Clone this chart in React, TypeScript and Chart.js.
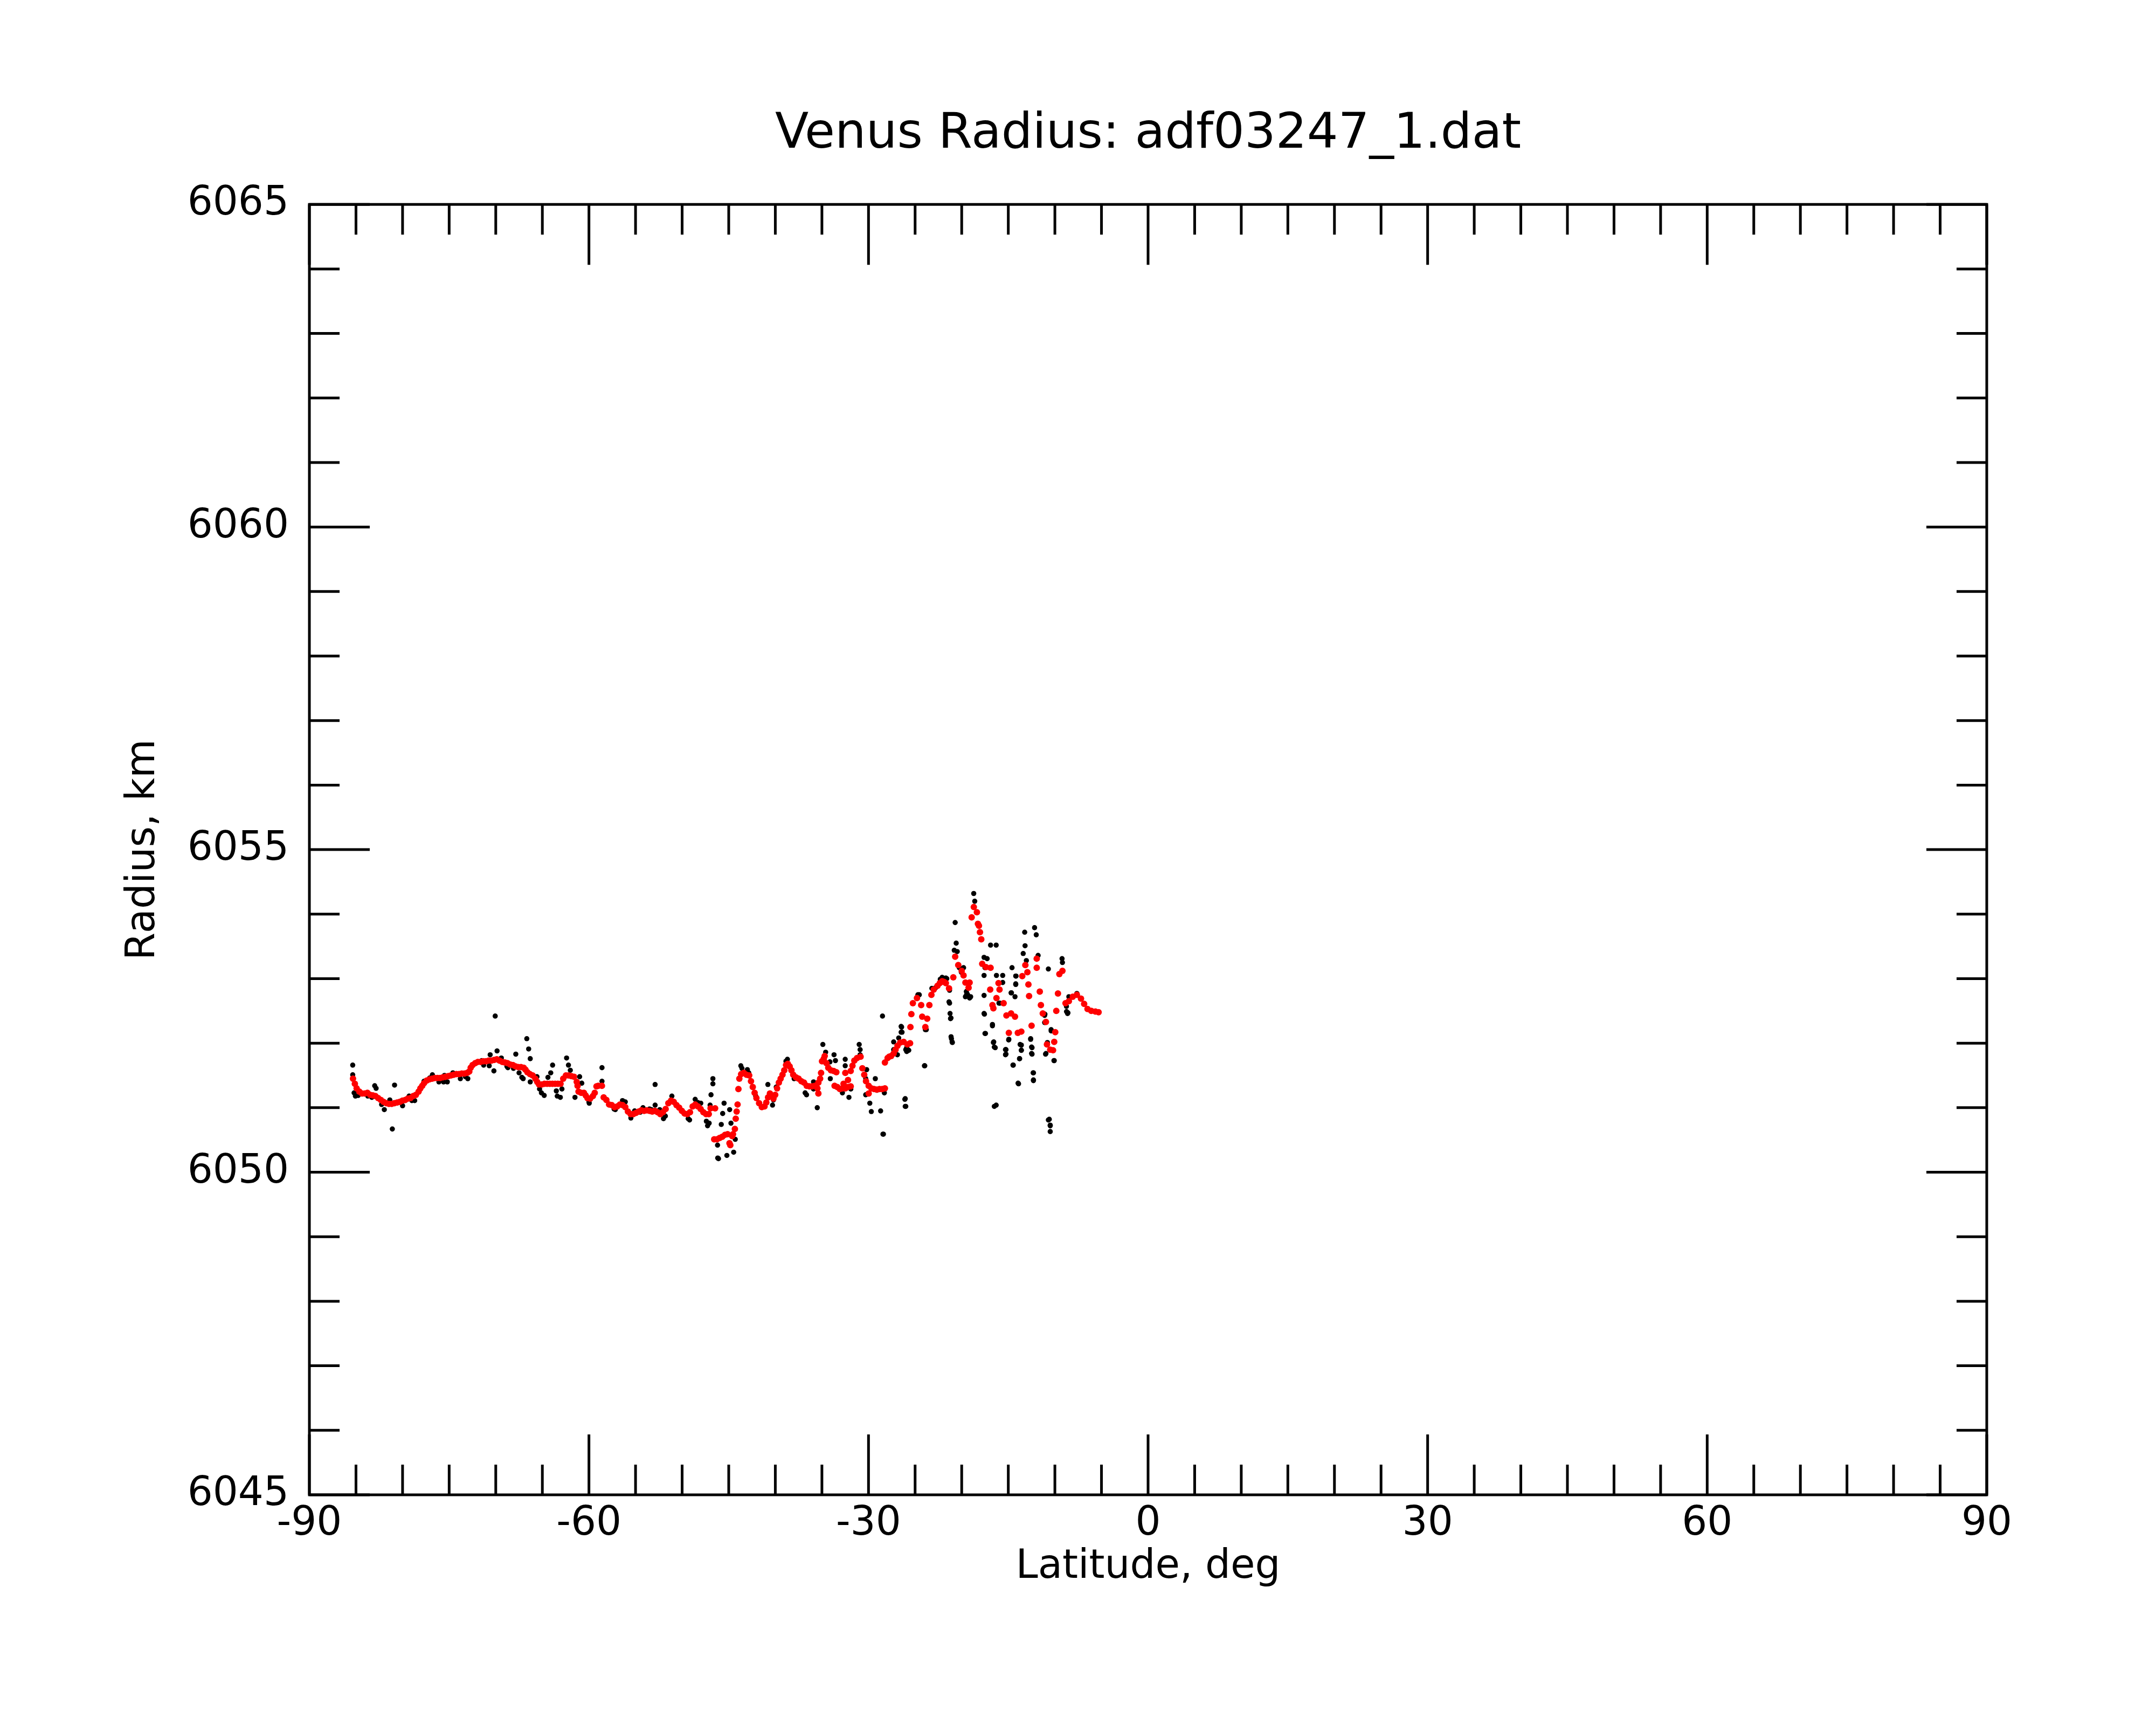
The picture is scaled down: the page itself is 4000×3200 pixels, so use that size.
import { useEffect, useRef } from 'react';
import { Chart, registerables } from 'chart.js';

Chart.register(...registerables);

const TITLE = 'Venus Radius: adf03247_1.dat';
const X_TICKS = [-90, -60, -30, 0, 30, 60, 90];
const Y_TICKS = [6045, 6050, 6055, 6060, 6065];

// smoothed radius (red)
const fitLat = [
  -85.32, -85.12, -84.93, -84.64, -84.35, -84.06, -83.77, -83.48, -83.19, -82.91,
  -82.62, -82.33, -82.04, -81.75, -81.46, -81.17, -80.88, -80.59, -80.30, -80.01,
  -79.72, -79.44, -79.15, -78.86, -78.57, -78.28, -78.09, -77.89, -77.70, -77.41,
  -77.12, -76.83, -76.54, -76.25, -75.97, -75.68, -75.39, -75.10, -74.81, -74.52,
  -74.23, -73.94, -73.65, -73.36, -73.07, -72.84, -72.69, -72.49, -72.21, -71.92,
  -71.63, -71.34, -71.05, -70.76, -70.47, -70.18, -69.89, -69.60, -69.31, -69.02,
  -68.74, -68.45, -68.16, -67.87, -67.58, -67.29, -67.00, -66.81, -66.61, -66.33,
  -66.04, -65.75, -65.55, -65.36, -65.07, -64.78, -64.49, -64.20, -63.92, -63.63,
  -63.34, -63.05, -62.76, -62.47, -62.18, -61.89, -61.60, -61.31, -61.22, -61.12,
  -60.83, -60.54, -60.35, -60.16, -59.87, -59.58, -59.38, -59.19, -59.00, -58.61,
  -58.42, -58.13,
  -57.84, -57.55, -57.26, -56.97, -56.68, -56.39, -56.10, -55.82, -55.53, -55.24,
  -54.95, -54.66, -54.37, -54.08, -53.79, -53.50, -53.21, -52.92, -52.63, -52.35,
  -52.06, -51.77, -51.48, -51.19, -50.90, -50.61, -50.32, -50.03, -49.74, -49.45,
  -49.16, -48.87, -48.59, -48.30, -48.01, -47.72, -47.43, -47.14, -46.95, -46.46,
  -46.56, -46.27, -45.98, -45.69, -45.40, -45.12, -44.92, -44.83, -44.63, -44.54,
  -44.34, -44.25, -44.15, -44.05, -43.96, -43.86, -43.67, -43.38, -43.09, -42.80,
  -42.61, -42.42, -42.22, -42.03, -41.74, -41.45, -41.16, -40.97, -40.78, -40.58,
  -40.39, -40.20, -40.01, -39.81, -39.62, -39.43, -39.23, -39.04, -38.85, -38.66,
  -38.46, -38.27, -38.08, -37.79, -37.50, -37.21, -36.92, -36.63, -36.34, -36.05,
  -35.76, -35.48, -35.38, -35.38, -35.19, -35.09, -34.99, -34.80, -34.70, -34.51,
  -34.32, -34.03, -33.74, -33.45, -33.64, -33.35, -33.07, -32.78, -32.49, -32.20,
  -31.91, -32.68, -32.49, -32.20, -31.91, -31.72, -31.52, -31.23, -30.85, -30.66,
  -30.46, -30.27, -29.98, -29.69, -29.40, -29.11, -28.82, -28.53, -28.24, -29.98,
  -28.24, -27.95, -27.78, -27.57, -27.30, -27.10, -26.89, -26.60, -26.23, -25.83,
  -25.54, -25.50, -25.40, -25.24, -24.80, -24.35, -24.24, -23.90, -23.70, -23.47,
  -23.25, -23.00, -22.60, -22.35, -22.10, -21.90, -21.70, -21.36, -20.90, -20.70,
  -20.37, -20.00, -19.80, -19.60, -19.26, -19.15, -18.93, -18.70, -18.37, -18.26,
  -18.15, -18.04, -17.90, -17.80, -17.40, -16.90, -16.94, -16.05, -15.94, -16.27,
  -16.70, -16.60, -15.50, -15.20, -14.70, -14.28, -14.94, -13.98, -13.60, -13.50,
  -13.17, -12.95, -12.84, -12.77, -12.50, -11.95, -11.95, -11.62, -11.50, -11.30,
  -10.96, -10.85, -10.50, -10.20, -10.07, -9.96, -9.85, -9.67, -9.52, -9.19,
  -8.86, -8.50, -8.08, -7.64, -7.20, -6.86, -6.50, -6.09, -5.65, -5.31,
];
const fitRadius = [
  6051.45, 6051.37, 6051.30, 6051.25, 6051.22, 6051.22, 6051.23, 6051.20, 6051.19, 6051.18,
  6051.15, 6051.12, 6051.09, 6051.07, 6051.06, 6051.06, 6051.07, 6051.08, 6051.09, 6051.11,
  6051.12, 6051.14, 6051.15, 6051.18, 6051.20, 6051.25, 6051.30, 6051.34, 6051.38, 6051.42,
  6051.44, 6051.45, 6051.46, 6051.46, 6051.46, 6051.47, 6051.48, 6051.49, 6051.50, 6051.51,
  6051.52, 6051.52, 6051.53, 6051.53, 6051.54, 6051.56, 6051.62, 6051.66, 6051.69, 6051.71,
  6051.71, 6051.72, 6051.72, 6051.73, 6051.73, 6051.74, 6051.75, 6051.73, 6051.71, 6051.70,
  6051.69, 6051.67, 6051.66, 6051.64, 6051.63, 6051.63, 6051.62, 6051.59, 6051.55, 6051.52,
  6051.50, 6051.45, 6051.40, 6051.36, 6051.36, 6051.37, 6051.37, 6051.37, 6051.37, 6051.37,
  6051.37, 6051.37, 6051.45, 6051.50, 6051.50, 6051.49, 6051.48, 6051.40, 6051.34, 6051.25,
  6051.23, 6051.23, 6051.19, 6051.15, 6051.14, 6051.18, 6051.23, 6051.33, 6051.34, 6051.34,
  6051.16, 6051.12,
  6051.05, 6051.04, 6051.01, 6051.02, 6051.05, 6051.04, 6051.01, 6050.94, 6050.90, 6050.90,
  6050.92, 6050.94, 6050.96, 6050.95, 6050.96, 6050.95, 6050.94, 6050.95, 6050.93, 6050.90,
  6050.93, 6050.98, 6051.07, 6051.11, 6051.09, 6051.04, 6051.00, 6050.95, 6050.91, 6050.90,
  6050.93, 6051.02, 6051.05, 6051.02, 6050.98, 6050.93, 6050.90, 6050.90, 6050.99, 6050.99,
  6050.51, 6050.51, 6050.53, 6050.55, 6050.58, 6050.59, 6050.45, 6050.42, 6050.56, 6050.59,
  6050.67, 6050.83, 6050.94, 6051.05, 6051.29, 6051.45, 6051.52, 6051.54, 6051.51, 6051.50,
  6051.41, 6051.32, 6051.23, 6051.15, 6051.07, 6051.01, 6051.02, 6051.08, 6051.16, 6051.22,
  6051.19, 6051.14, 6051.20, 6051.30, 6051.39, 6051.45, 6051.51, 6051.58, 6051.66, 6051.68,
  6051.64, 6051.58, 6051.51, 6051.47, 6051.45, 6051.41, 6051.39, 6051.34, 6051.33, 6051.33,
  6051.34, 6051.30, 6051.22, 6051.39, 6051.45, 6051.54, 6051.72, 6051.76, 6051.80, 6051.69,
  6051.62, 6051.58, 6051.57, 6051.55, 6051.34, 6051.32, 6051.29, 6051.30, 6051.30, 6051.32,
  6051.33, 6051.37, 6051.54, 6051.43, 6051.57, 6051.65, 6051.73, 6051.77, 6051.79, 6051.61,
  6051.51, 6051.41, 6051.34, 6051.30, 6051.29, 6051.28, 6051.29, 6051.29, 6051.30, 6051.22,
  6051.70, 6051.77, 6051.79, 6051.80, 6051.84, 6051.90, 6051.96, 6052.01, 6052.02, 6051.98,
  6052.00, 6052.25, 6052.45, 6052.62, 6052.70, 6052.59, 6052.41, 6052.25, 6052.38, 6052.59,
  6052.75, 6052.83, 6052.89, 6052.93, 6052.96, 6052.95, 6052.93, 6052.85, 6053.02, 6053.34,
  6053.21, 6053.12, 6053.05, 6052.94, 6052.86, 6052.94, 6053.95, 6054.11, 6054.03, 6053.85,
  6053.82, 6053.72, 6053.61, 6053.23, 6053.18, 6053.17, 6052.83, 6052.93, 6052.83, 6052.70,
  6052.59, 6052.54, 6052.62, 6052.43, 6052.46, 6052.41, 6052.16, 6052.16, 6052.18, 6053.04,
  6053.21, 6053.10, 6052.91, 6052.73, 6052.27, 6053.31, 6053.17, 6052.80, 6052.59, 6052.46,
  6052.33, 6051.98, 6051.90, 6051.89, 6052.02, 6052.17, 6052.50, 6052.77, 6053.07, 6053.12,
  6052.62, 6052.65, 6052.72, 6052.75, 6052.69, 6052.61, 6052.53, 6052.50, 6052.49, 6052.48,
];

// raw radius samples (black)
const rawLat = [
  -85.35, -85.35, -85.2, -84.76, -85.06, -83.73, -83.3, -82.99, -82.84, -82.25,
  -81.96, -81.37, -81.1, -80.86, -80.0, -79.3, -79.0, -78.7, -77.7, -77.1,
  -76.8, -76.1, -75.6, -75.5, -75.2, -74.6, -73.8, -73.25, -73.0, -71.5,
  -71.3, -70.7, -70.6, -70.2, -70.06, -69.86, -69.4, -68.8, -68.7, -68.1,
  -67.85, -67.5, -67.2, -67.06, -66.67, -66.47, -66.3, -66.3, -65.58, -65.3,
  -65.1, -64.8, -64.4, -64.1, -63.9, -63.5, -63.4, -63.07, -62.9, -62.4,
  -62.2, -62.0, -61.5, -61.0, -60.77, -60.0, -59.97, -58.6, -58.6, -57.3,
  -57.17, -56.4, -56.1, -55.5, -55.1, -54.5, -54.2, -53.5, -53.3, -52.9,
  -52.9, -52.4, -52.0, -51.8, -51.1, -49.35, -49.2, -48.6, -48.3, -48.0,
  -47.4, -47.27, -47.1, -46.7, -46.7, -46.9, -47.0, -45.5, -45.65, -44.9,
  -45.8, -44.76, -46.2, -46.18, -46.1, -45.2, -44.47, -44.3, -43.7, -43.58,
  -43.0, -42.85, -42.1, -41.37, -40.8, -40.3, -40.2, -39.9, -38.86, -38.7,
  -37.98, -37.24, -36.8, -36.65, -35.9, -35.9, -35.5, -34.9, -34.6, -34.14,
  -34.1, -33.7, -33.55, -32.66, -32.5, -32.5, -32.8, -32.1, -31.9, -31.0,
  -30.9, -30.9, -30.3, -30.2, -30.3, -29.86, -29.7, -29.27, -29.1, -28.7,
  -28.5, -28.4, -28.3, -28.45, -27.35, -27.3, -27.3, -26.9, -26.76, -26.5,
  -26.5, -26.45, -26.4, -26.0, -25.9, -25.9, -25.68, -26.1, -26.0, -26.06,
  -26.06, -24.7, -24.55, -24.7, -24.0, -23.96, -23.9, -23.8, -23.2, -22.8,
  -22.3, -22.1, -22.0, -21.7, -21.6, -21.36, -21.3, -21.3, -21.25, -21.2,
  -21.15, -21.14, -21.1, -21.03, -21.0, -20.7, -20.59, -20.8, -20.48, -20.26,
  -20.04, -19.8, -19.6, -19.5, -19.48, -19.4, -19.37, -19.15, -19.1, -19.04,
  -18.71, -18.6, -17.6, -17.6, -17.6, -17.5, -17.5, -17.6, -17.56, -17.45,
  -17.27, -16.9, -16.7, -16.7, -16.6, -16.56, -16.5, -16.5, -16.4, -16.3,
  -16.3, -16.27, -16.0, -15.9, -15.6, -15.6, -15.3, -15.3, -15.25, -15.25,
  -14.96, -14.94, -14.7, -14.66, -14.6, -14.5, -14.46, -14.28, -14.2, -14.2,
  -14.2, -14.17, -13.95, -13.9, -13.8, -13.78, -13.73, -13.6, -13.6, -13.6,
  -13.4, -13.24, -13.2, -13.06, -12.6, -12.6, -12.5, -12.5, -12.45, -12.45,
  -12.33, -12.3, -12.3, -12.3, -12.18, -12.0, -11.8, -11.1, -11.1, -11.07,
  -11.0, -10.96, -10.96, -10.8, -10.7, -10.7, -10.6, -10.5, -10.5, -10.5,
  -10.4, -10.4, -10.1, -10.07, -10.07, -9.23, -9.19, -8.76, -8.75, -8.64,
  -8.6, -8.5, -8.4, -7.64,
];
const rawRadius = [
  6051.66, 6051.51, 6051.23, 6051.19, 6051.18, 6051.18, 6051.16, 6051.34, 6051.3, 6051.05,
  6050.97, 6051.12, 6050.67, 6051.35, 6051.03, 6051.18, 6051.11, 6051.11, 6051.41, 6051.46,
  6051.51, 6051.4, 6051.4, 6051.5, 6051.4, 6051.54, 6051.45, 6051.48, 6051.45, 6051.73,
  6051.66, 6051.65, 6051.82, 6051.57, 6052.42, 6051.88, 6051.77, 6051.64, 6051.62, 6051.61,
  6051.83, 6051.54, 6051.47, 6051.45, 6052.07, 6051.91, 6051.76, 6051.4, 6051.48, 6051.29,
  6051.23, 6051.19, 6051.47, 6051.54, 6051.66, 6051.26, 6051.18, 6051.16, 6051.29, 6051.77,
  6051.66, 6051.58, 6051.16, 6051.48, 6051.38, 6051.09, 6051.07, 6051.62, 6051.41, 6050.98,
  6050.97, 6051.11, 6051.09, 6050.84, 6050.95, 6050.93, 6051.0, 6050.98, 6050.97, 6051.36,
  6051.04, 6050.97, 6050.83, 6050.87, 6051.18, 6050.83, 6050.81, 6051.13, 6051.08, 6051.07,
  6050.79, 6050.72, 6050.76, 6051.45, 6051.37, 6051.2, 6051.04, 6051.07, 6050.91, 6050.97,
  6050.74, 6050.76, 6050.42, 6050.22, 6050.21, 6050.26, 6050.31, 6050.51, 6051.65, 6051.61,
  6051.59, 6051.54, 6051.18, 6051.01, 6051.36, 6051.04, 6051.12, 6051.32, 6051.72, 6051.75,
  6051.45, 6051.41, 6051.23, 6051.2, 6051.4, 6051.29, 6051.0, 6051.98, 6051.86, 6051.71,
  6051.45, 6051.82, 6051.73, 6051.34, 6051.75, 6051.65, 6051.23, 6051.16, 6051.29, 6051.98,
  6051.9, 6051.82, 6051.45, 6051.59, 6051.2, 6051.07, 6050.94, 6051.45, 6051.27, 6050.95,
  6052.42, 6050.59, 6051.23, 6050.59, 6051.84, 6051.9, 6052.02, 6051.82, 6052.08, 6052.26,
  6052.17, 6052.25, 6052.17, 6051.9, 6051.93, 6051.87, 6051.89, 6051.13, 6051.02, 6051.14,
  6051.02, 6052.75, 6052.75, 6052.73, 6051.65, 6051.65, 6052.21, 6052.21, 6052.85, 6052.86,
  6052.99, 6053.02, 6053.01, 6053.01, 6053.0, 6052.64, 6052.62, 6052.82, 6052.46, 6052.38,
  6052.39, 6052.1, 6052.07, 6052.02, 6052.01, 6053.87, 6053.55, 6053.44, 6053.42, 6053.17,
  6053.1, 6053.17, 6052.72, 6052.8, 6052.75, 6052.76, 6052.75, 6052.7, 6052.71, 6052.72,
  6054.32, 6054.2, 6052.74, 6052.46, 6053.05, 6052.15, 6053.17, 6053.33, 6052.45, 6052.15,
  6053.31, 6053.52, 6052.29, 6052.27, 6052.01, 6052.02, 6051.94, 6051.02, 6051.93, 6053.52,
  6051.04, 6053.05, 6052.62, 6052.62, 6053.05, 6052.94, 6051.9, 6051.82, 6051.9, 6051.83,
  6052.05, 6052.06, 6052.78, 6052.78, 6053.17, 6051.66, 6051.66, 6052.72, 6052.92, 6053.04,
  6052.91, 6053.04, 6051.38, 6051.37, 6051.76, 6051.76, 6051.98, 6051.97, 6051.89, 6051.89,
  6053.39, 6053.72, 6053.51, 6053.28, 6052.07, 6052.06, 6051.94, 6051.84, 6051.93, 6051.83,
  6051.54, 6051.54, 6051.43, 6051.42, 6053.79, 6053.68, 6053.36, 6052.32, 6052.43, 6052.45,
  6051.83, 6052.33, 6051.84, 6052.01, 6050.81, 6053.15, 6050.82, 6050.73, 6050.63, 6050.72,
  6052.19, 6052.21, 6051.73, 6052.02, 6051.73, 6053.31, 6053.25, 6052.57, 6052.49, 6052.46,
  6052.47, 6052.72, 6052.7, 6052.77,
];

const X_MINOR = 5;
const Y_MINOR = 1;

// inward tick marks on all four sides plus the box
const framePlugin = {
  id: 'frame',
  afterDatasetsDraw(chart: Chart) {
    const { ctx, chartArea: a } = chart;
    const x = chart.scales.x;
    const y = chart.scales.y;
    ctx.save();
    ctx.strokeStyle = '#000';
    ctx.lineWidth = 5;
    ctx.beginPath();
    for (let v = x.min; v <= x.max; v += X_MINOR) {
      const px = x.getPixelForValue(v);
      const len = X_TICKS.includes(v) ? 112 : 56;
      ctx.moveTo(px, a.bottom);
      ctx.lineTo(px, a.bottom - len);
      ctx.moveTo(px, a.top);
      ctx.lineTo(px, a.top + len);
    }
    for (let v = y.min; v <= y.max; v += Y_MINOR) {
      const py = y.getPixelForValue(v);
      const len = Y_TICKS.includes(v) ? 112 : 56;
      ctx.moveTo(a.left, py);
      ctx.lineTo(a.left + len, py);
      ctx.moveTo(a.right, py);
      ctx.lineTo(a.right - len, py);
    }
    ctx.stroke();
    ctx.strokeRect(a.left, a.top, a.right - a.left, a.bottom - a.top);
    ctx.restore();
  },
};

export default function App() {
  const canvasRef = useRef<HTMLCanvasElement>(null);

  useEffect(() => {
    document.body.style.margin = '0';
    if (!canvasRef.current) return;

    Chart.defaults.font.family = '"DejaVu Sans", sans-serif';
    Chart.defaults.color = '#000';

    const chart = new Chart(canvasRef.current, {
      type: 'scatter',
      data: {
        datasets: [
          {
            label: 'fit',
            data: fitLat.map((lat, i) => ({ x: lat, y: fitRadius[i] })),
            backgroundColor: '#ff0000',
            borderWidth: 0,
            pointRadius: 6,
            order: 0,
          },
          {
            label: 'raw',
            data: rawLat.map((lat, i) => ({ x: lat, y: rawRadius[i] })),
            backgroundColor: '#000',
            borderWidth: 0,
            pointRadius: 4.8,
            order: 1,
          },
        ],
      },
      plugins: [framePlugin],
      options: {
        animation: false,
        responsive: true,
        maintainAspectRatio: false,
        devicePixelRatio: 1,
        layout: { padding: { top: 196, right: 314, bottom: 0, left: 0 } },
        plugins: {
          legend: { display: false },
          tooltip: { enabled: false },
          title: {
            display: true,
            fullSize: false,
            text: TITLE,
            color: '#000',
            font: { size: 91, weight: 'normal' },
            padding: { top: 0, bottom: 74 },
          },
        },
        scales: {
          x: {
            type: 'linear',
            min: -90,
            max: 90,
            afterBuildTicks: (s) => { s.ticks = X_TICKS.map(v => ({ value: v })); },
            afterFit: (s) => { s.height = 427; },
            grid: { display: false, drawTicks: false },
            border: { display: false },
            ticks: {
              font: { size: 74 }, padding: 10, maxRotation: 0, autoSkip: false, color: '#000',
              callback: (v) => String(v),
            },
            title: {
              display: true,
              text: 'Latitude, deg',
              font: { size: 74 },
              color: '#000',
              padding: { top: 0, bottom: 248 },
            },
          },
          y: {
            type: 'linear',
            min: 6045,
            max: 6065,
            afterBuildTicks: (s) => { s.ticks = Y_TICKS.map(v => ({ value: v })); },
            afterFit: (s) => { s.width = 574; },
            grid: { display: false, drawTicks: false },
            border: { display: false },
            ticks: {
              font: { size: 74 }, padding: 38, autoSkip: false, color: '#000',
              callback: (v) => String(v),
            },
            title: {
              display: true,
              text: 'Radius, km',
              font: { size: 74 },
              color: '#000',
              padding: { top: 222, bottom: 0 },
            },
          },
        },
      },
    });

    return () => { chart.destroy(); };
  }, []);

  return (
    <div style={{ position: 'relative', width: '4000px', height: '3200px', background: '#fff' }}>
      <canvas ref={canvasRef} />
    </div>
  );
}
